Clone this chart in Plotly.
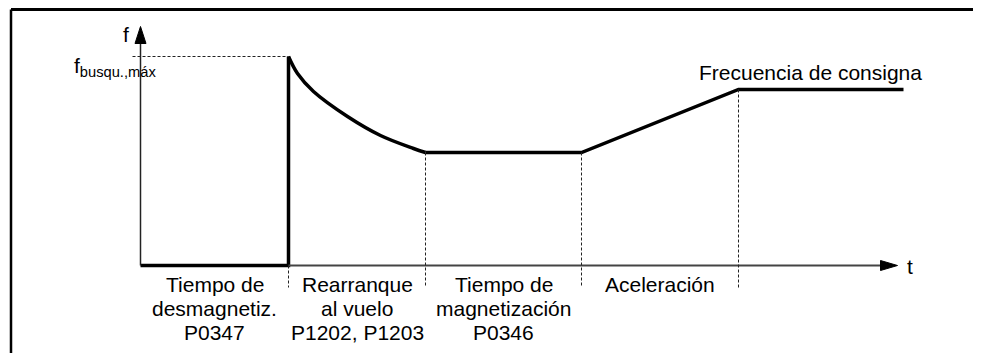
import plotly.graph_objects as go

# Time axis (arbitrary units) — phase boundaries
t_phase = [0.0, 1.48, 2.85, 4.41, 5.98, 7.63]
t_axis_end = 7.57

# Frequency levels
f_search_max = 2.09
f_search_end = 1.13
f_setpoint = 1.76

# Flying-restart decay (t, f)
decay_t = [1.48, 1.57, 1.73, 2.07, 2.40, 2.73, 2.85]
decay_f = [2.09, 1.92, 1.74, 1.49, 1.30, 1.17, 1.13]

phase_labels = [
    ["Tiempo de", "desmagnetiz.", "P0347"],
    ["Rearranque", "al vuelo", "P1202, P1203"],
    ["Tiempo de", "magnetización", "P0346"],
    ["Aceleración"],
]

FONT = "Liberation Sans, Arial, sans-serif"
INK = "#000000"
DASH = "#222222"

fig = go.Figure()

# frequency curve: demagnetization + jump, decay, hold / ramp / setpoint
fig.add_trace(go.Scatter(x=[t_phase[0], t_phase[1], t_phase[1]], y=[0.0, 0.0, f_search_max],
                         mode="lines", line=dict(color=INK, width=3.5), hoverinfo="skip"))
fig.add_trace(go.Scatter(x=decay_t, y=decay_f, mode="lines",
                         line=dict(color=INK, width=3.5, shape="spline", smoothing=1.0),
                         hoverinfo="skip"))
fig.add_trace(go.Scatter(x=[t_phase[2], t_phase[3], t_phase[4], t_phase[5]],
                         y=[f_search_end, f_search_end, f_setpoint, f_setpoint],
                         mode="lines", line=dict(color=INK, width=3.5), hoverinfo="skip"))

# axes
fig.add_trace(go.Scatter(x=[t_phase[1], t_axis_end - 0.17], y=[0, 0], mode="lines",
                         line=dict(color="#444444", width=2), hoverinfo="skip"))
fig.add_trace(go.Scatter(x=[0, 0], y=[0, 2.22], mode="lines",
                         line=dict(color="#222222", width=1.5), hoverinfo="skip"))
# arrowheads
fig.add_trace(go.Scatter(
    x=[t_axis_end, t_axis_end - 0.17, t_axis_end - 0.17, t_axis_end],
    y=[0, 0.05, -0.05, 0], mode="lines", fill="toself",
    fillcolor=INK, line=dict(color=INK, width=1), hoverinfo="skip"))
fig.add_trace(go.Scatter(
    x=[0, -0.055, 0.055, 0], y=[2.39, 2.22, 2.22, 2.39], mode="lines", fill="toself",
    fillcolor=INK, line=dict(color=INK, width=1), hoverinfo="skip"))

# dashed helper lines
fig.add_trace(go.Scatter(x=[-0.08, t_phase[1]], y=[f_search_max, f_search_max], mode="lines",
                         line=dict(color=DASH, width=1, dash="3px,2px"), hoverinfo="skip"))
tops = [0.0, f_search_end, f_search_end, f_setpoint]
for tb, top in zip(t_phase[1:5], tops):
    fig.add_trace(go.Scatter(x=[tb, tb], y=[top, -0.22], mode="lines",
                             line=dict(color=DASH, width=1, dash="3px,2px"), hoverinfo="skip"))

# text
ann = []
for i, lines in enumerate(phase_labels):
    xm = (t_phase[i] + t_phase[i + 1]) / 2
    for j, s in enumerate(lines):
        ann.append(dict(x=xm, y=-0.19 - 0.24 * j, text=s, showarrow=False,
                        xanchor="center", yanchor="middle"))
ann += [
    dict(x=-0.15, y=2.31, text="f", showarrow=False, xanchor="center", yanchor="middle"),
    dict(x=-0.69, y=1.99, text="f<sub>busqu.,máx</sub>", showarrow=False,
         xanchor="left", yanchor="middle"),
    dict(x=6.70, y=1.93, text="Frecuencia de consigna", showarrow=False,
         xanchor="center", yanchor="middle"),
    dict(x=7.69, y=-0.01, text="t", showarrow=False, xanchor="center", yanchor="middle"),
]
for a in ann:
    a["font"] = dict(family=FONT, size=21, color=INK)

# frame (top and left edges); page body adds an 8px offset
shapes = [
    dict(type="line", xref="paper", yref="paper", x0=3 / 981, x1=1, y0=1 - 1.5 / 353,
         y1=1 - 1.5 / 353, line=dict(color=INK, width=3)),
    dict(type="line", xref="paper", yref="paper", x0=3 / 981, x1=3 / 981, y0=0,
         y1=1 - 1.5 / 353, line=dict(color=INK, width=2.5)),
]

fig.update_layout(
    width=981, height=353,
    margin=dict(l=0, r=0, t=0, b=0),
    paper_bgcolor="white", plot_bgcolor="white",
    showlegend=False,
    annotations=ann, shapes=shapes,
    # half-pixel offset keeps the 1px dashed lines crisp
    xaxis=dict(range=[-1.325, 8.485], visible=False, fixedrange=True),
    yaxis=dict(range=[-0.955, 2.575], visible=False, fixedrange=True),
    font=dict(family=FONT, size=21, color=INK),
)

fig.write_html("out.html")
